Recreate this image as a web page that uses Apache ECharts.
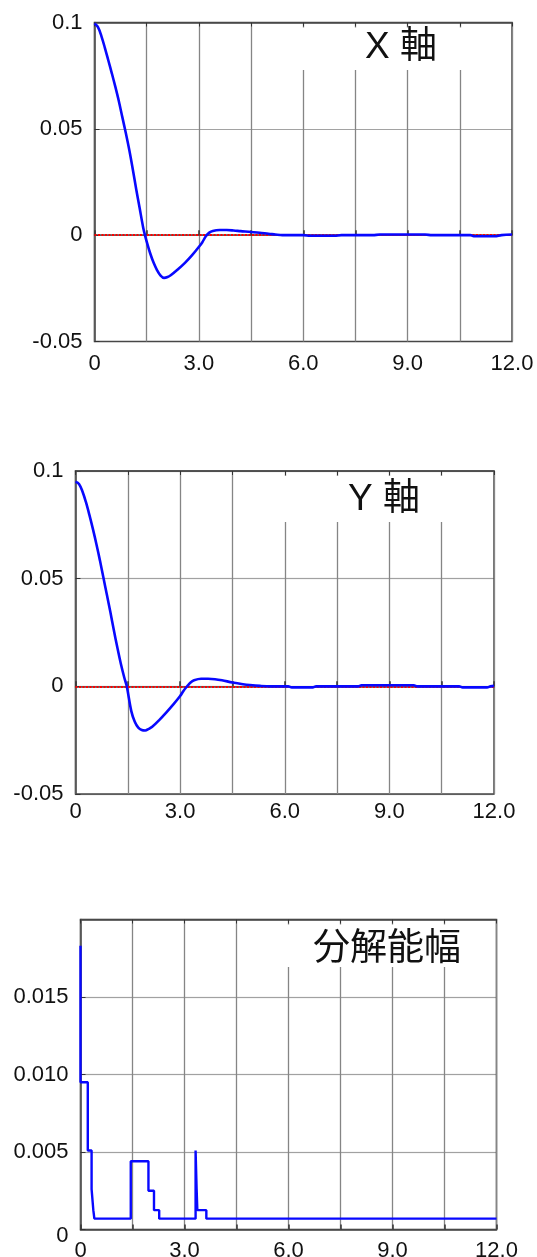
<!DOCTYPE html>
<html><head><meta charset="utf-8">
<script src="https://cdn.jsdelivr.net/npm/echarts@6/dist/echarts.min.js"></script>
<style>html,body{margin:0;padding:0;background:#fff}#c{width:537px;height:1257px}</style>
</head><body><div id="c"></div>
<script>
// ---- data ----
const timeX = [0,0.1,0.2,0.3,0.4,0.5,0.6,0.7,0.8,0.9,1.0,1.1,1.2,1.3,1.4,1.45,1.5,1.6,1.7,1.8,1.9,2.0,2.1,2.2,2.4,2.6,2.8,3.0,3.1,3.2,3.3,3.4,3.6,3.8,4.0,4.2,4.5,4.8,5.0,5.2,5.4,6.0,6.2,6.9,7.1,8.0,8.2,9.5,9.7,10.8,10.9,11.5,11.7,12.0];
const devX  = [0.0995,0.0978,0.0935,0.088,0.082,0.076,0.0697,0.063,0.0555,0.048,0.040,0.031,0.0215,0.0125,0.0035,0,-0.003,-0.0085,-0.013,-0.0165,-0.019,-0.0201,-0.0197,-0.0187,-0.016,-0.013,-0.0095,-0.0055,-0.0033,-0.0005,0.0012,0.002,0.0024,0.0024,0.0022,0.0019,0.0015,0.001,0.0007,0.0003,0,0,-0.0003,-0.0003,0,0,0.0003,0.0003,0,0,-0.0005,-0.0005,0,0.0003];
const timeY = [0,0.1,0.2,0.3,0.4,0.5,0.6,0.7,0.8,0.9,1.0,1.1,1.2,1.3,1.4,1.47,1.6,1.7,1.8,1.9,2.0,2.1,2.2,2.4,2.6,2.8,3.0,3.1,3.2,3.3,3.4,3.6,3.8,4.0,4.2,4.5,4.8,5.0,5.3,5.6,6.1,6.2,6.8,6.9,8.1,8.2,9.7,9.8,11.0,11.1,11.8,11.9,12.0];
const devY  = [0.095,0.094,0.0905,0.0855,0.0795,0.073,0.066,0.0585,0.0505,0.0425,0.0345,0.026,0.018,0.0105,0.004,0,-0.0115,-0.0165,-0.0192,-0.0203,-0.0205,-0.0198,-0.0188,-0.0157,-0.0122,-0.0085,-0.0045,-0.002,0,0.0018,0.0028,0.0035,0.0035,0.0033,0.0028,0.0018,0.001,0.0006,0.0002,0,0,-0.0005,-0.0005,0,0,0.0005,0.0005,0,0,-0.0005,-0.0005,0,0.0002];
const stepTime  = [0,0,0.21,0.32,0.37,0.40,1.45,1.96,2.12,2.27,3.32,3.35,3.37,3.63,12];
const stepWidth = [0.0183,0.0095,0.0051,0.0026,0.00125,0.0007,0.0044,0.0025,0.00125,0.0007,0.0051,0.0026,0.00125,0.0007,0.0007];
const titles = ['X 軸','Y 軸','分解能幅'];
const refLevel = 0;
const xMin = 0, xMax = 12, xStep = 3;
const devMin = -0.05, devMax = 0.1, devStep = 0.05;
const widMin = 0, widMax = 0.02, widStep = 0.005;

// ---- layout / style ----
const FONT = "'Liberation Sans', Arial, sans-serif";
const CJK = "'Liberation Sans', 'Noto Sans CJK JP', sans-serif";
const grids = [
  {left:94.5, top:22.5, width:417.5, height:319},
  {left:75.5, top:471, width:418.5, height:323},
  {left:80.5, top:919.5, width:416, height:310}
];
const labelMargin = [11, 7, 10];
const maskBottom = [70, 522, 967];
const titlePos = [{left:365, top:29}, {left:348, top:481}, {left:313, top:931}];
const GRIDCOL = '#858585', AXCOL = '#4a4a4a', TXT = '#111';
const BLUE = '#0808ff';

const xAxes = [], yAxes = [], series = [], graphics = [], titleOpts = [];
grids.forEach((g, i) => {
  xAxes.push({
    gridIndex:i, type:'value', min:xMin, max:xMax, interval:xStep, position:'bottom', z:0,
    axisLine:{show:true, lineStyle:{color:AXCOL, width:1.5}},
    axisTick:{show:true, inside:true, length:5, lineStyle:{color:'#333', width:1.5}},
    minorTick:{show:true, splitNumber:2, length:5, lineStyle:{color:'#333', width:1.5}},
    splitLine:{show:true, lineStyle:{color:GRIDCOL, width:1.3}},
    minorSplitLine:{show:true, lineStyle:{color:GRIDCOL, width:1.3}},
    axisLabel:{fontSize:22, color:TXT, fontFamily:FONT, margin:labelMargin[i],
      formatter: v => v === 0 ? '0' : v.toFixed(1)}
  });
  xAxes.push({
    gridIndex:i, type:'value', min:xMin, max:xMax, interval:xStep, position:'top', z:3,
    axisLine:{show:true, lineStyle:{color:AXCOL, width:1.5}},
    axisTick:{show:true, inside:true, length:4, lineStyle:{color:'#333'}},
    minorTick:{show:true, splitNumber:2, length:4, lineStyle:{color:'#333'}},
    splitLine:{show:false}, axisLabel:{show:false}
  });
  const isWidth = i === 2;
  yAxes.push({
    gridIndex:i, type:'value',
    min:isWidth?widMin:devMin, max:isWidth?widMax:devMax, interval:isWidth?widStep:devStep,
    axisLine:{show:true, lineStyle:{color:AXCOL, width:1.5}},
    axisTick:{show:true, inside:true, length:5, lineStyle:{color:'#333'}},
    splitLine:{show:true, lineStyle:{color:'#444', width:1.2, type:[1,1]}},
    axisLabel:{fontSize:22, color:TXT, fontFamily:FONT, margin:12, showMaxLabel:!isWidth,
      formatter: isWidth ? (v => v === 0 ? '{low|0}' : v.toFixed(3)) : (v => String(+v.toFixed(3))),
      rich:{low:{fontSize:22, color:TXT, fontFamily:FONT, padding:[13,0,0,0]}}}
  });
  const x0 = g.left + (5.25 / 12) * g.width;
  graphics.push({type:'rect', z:1, silent:true,
    shape:{x:x0, y:g.top + 5, width:g.left + g.width - 1.5 - x0, height:maskBottom[i] - g.top - 5},
    style:{fill:'#fff'}});
  titleOpts.push({text:titles[i], left:titlePos[i].left, top:titlePos[i].top, padding:0,
    textStyle:{fontSize:37, fontWeight:'normal', color:TXT, fontFamily:CJK}});
});

const mkRef = {silent:true, symbol:'none', z:2, label:{show:false},
  lineStyle:{color:'#ff0000', type:[2,1.5], width:2}, data:[{yAxis:refLevel}]};

series.push({type:'line', xAxisIndex:0, yAxisIndex:0, z:3, showSymbol:false, smooth:0.35,
  data: timeX.map((t,k)=>[t, devX[k]]), lineStyle:{color:BLUE, width:2.6}, markLine:mkRef});
series.push({type:'line', xAxisIndex:2, yAxisIndex:1, z:3, showSymbol:false, smooth:0.35,
  data: timeY.map((t,k)=>[t, devY[k]]), lineStyle:{color:BLUE, width:2.6}, markLine:mkRef});
series.push({type:'line', xAxisIndex:4, yAxisIndex:2, z:3, showSymbol:false, step:'end',
  data: stepTime.map((t,k)=>[t, stepWidth[k]]), lineStyle:{color:BLUE, width:2.4}});

const chart = echarts.init(document.getElementById('c'), null, {renderer:'canvas'});
chart.setOption({
  animation:false, backgroundColor:'#fff',
  title:titleOpts,
  grid: grids.map(g => ({left:g.left, top:g.top, width:g.width, height:g.height, show:true,
    containLabel:false, outerBoundsMode:'none',
    borderColor:AXCOL, borderWidth:1.5, backgroundColor:'transparent'})),
  xAxis:xAxes, yAxis:yAxes, series:series, graphic:graphics
});
</script></body></html>
